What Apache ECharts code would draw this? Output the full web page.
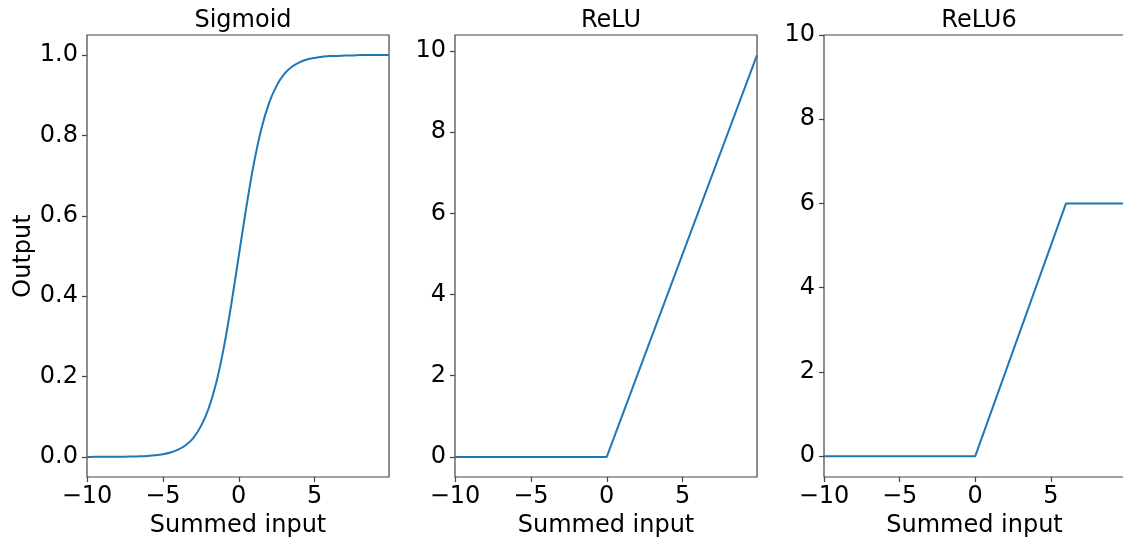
<!DOCTYPE html>
<html>
<head>
<meta charset="utf-8">
<script src="https://cdn.jsdelivr.net/npm/echarts@6/dist/echarts.min.js"></script>
<style>
html,body{margin:0;padding:0;background:#fff;}
#chart{width:1123px;height:540px;}
</style>
</head>
<body>
<div id="chart"></div>
<script>
// ---- data ----
const panelTitles = ["Sigmoid", "ReLU", "ReLU6"];
const xTicks = [-10, -5, 0, 5];
const sigmoidYTicks = [0, 0.2, 0.4, 0.6, 0.8, 1.0];
const reluYTicks = [0, 2, 4, 6, 8, 10];

const sigmoidX = [-10, -9.5, -9, -8.5, -8, -7.5, -7, -6.5, -6, -5.5, -5, -4.5, -4, -3.5, -3, -2.5, -2, -1.5, -1, -0.5, 0, 0.5, 1, 1.5, 2, 2.5, 3, 3.5, 4, 4.5, 5, 5.5, 6, 6.5, 7, 7.5, 8, 8.5, 9, 9.5, 9.9];
const sigmoidY = [0.0000, 0.0001, 0.0001, 0.0002, 0.0003, 0.0006, 0.0009, 0.0015, 0.0025, 0.0041, 0.0067, 0.011, 0.018, 0.029, 0.047, 0.076, 0.119, 0.182, 0.269, 0.378, 0.500, 0.622, 0.731, 0.818, 0.881, 0.924, 0.953, 0.971, 0.982, 0.989, 0.993, 0.996, 0.998, 0.998, 0.999, 0.999, 1.000, 1.000, 1.000, 1.000, 1.000];

const reluX = [-10, 0, 9.9];
const reluY = [0, 0, 9.9];

const relu6X = [-10, 0, 6, 9.9];
const relu6Y = [0, 0, 6, 6];

// ---- chart ----
const FONT = "DejaVu Sans";
const FS = 24;
const LINE = "#1f77b4";
const SPINE = "#444";
const zip = (a, b) => a.map((v, i) => [v, b[i]]);
const minusFmt = v => String(v).replace("-", "\u2212");

const grids = [
  { left: 87, top: 35, width: 302, height: 442 },
  { left: 455, top: 35, width: 302, height: 442 },
  { left: 824, top: 35, width: 301, height: 442 }
].map(g => Object.assign(g, { show: true, borderColor: SPINE, borderWidth: 1.2, backgroundColor: "transparent", containLabel: false, outerBoundsMode: "none" }));

const yRanges = [[-0.05, 1.05], [-0.495, 10.395], [-0.495, 10]];
const yTickSets = [sigmoidYTicks, reluYTicks, reluYTicks];

const xAxes = [0, 1, 2].map(i => ({
  type: "value", gridIndex: i, min: -10, max: 9.9, position: "bottom",
  name: "Summed input", nameLocation: "middle", nameGap: 36,
  nameTextStyle: { fontFamily: FONT, fontSize: FS, color: "#000" },
  axisLine: { show: false, onZero: false },
  axisTick: { show: true, inside: false, length: 5, customValues: xTicks, lineStyle: { color: SPINE, width: 1.2 } },
  axisLabel: { customValues: xTicks, margin: 8, fontFamily: FONT, fontSize: FS, color: "#000", formatter: minusFmt },
  splitLine: { show: false }
}));

const yAxes = [0, 1, 2].map(i => ({
  type: "value", gridIndex: i, min: yRanges[i][0], max: yRanges[i][1], position: "left",
  name: i === 0 ? "Output" : "", nameLocation: "middle", nameRotate: 90, nameGap: 50,
  nameTextStyle: { fontFamily: FONT, fontSize: FS, color: "#000" },
  axisLine: { show: false, onZero: false },
  axisTick: { show: true, inside: false, length: 5, customValues: yTickSets[i], lineStyle: { color: SPINE, width: 1.2 } },
  axisLabel: { customValues: yTickSets[i], margin: 9, fontFamily: FONT, fontSize: FS, color: "#000",
    formatter: i === 0 ? (v => v.toFixed(1)) : (v => String(v)) },
  splitLine: { show: false }
}));

const titles = panelTitles.map((t, i) => ({
  text: t, left: grids[i].left + grids[i].width / 2 - (i === 2 ? 0.5 : 0), top: 4, textAlign: "center",
  textStyle: { fontFamily: FONT, fontSize: FS, fontWeight: "normal", color: "#000" }
}));

const lineStyle = { color: LINE, width: 2 };
const series = [
  { type: "line", xAxisIndex: 0, yAxisIndex: 0, data: zip(sigmoidX, sigmoidY), smooth: 0.3, showSymbol: false, lineStyle, itemStyle: { color: LINE } },
  { type: "line", xAxisIndex: 1, yAxisIndex: 1, data: zip(reluX, reluY), showSymbol: false, lineStyle, itemStyle: { color: LINE } },
  { type: "line", xAxisIndex: 2, yAxisIndex: 2, data: zip(relu6X, relu6Y), showSymbol: false, lineStyle, itemStyle: { color: LINE } }
];

const chart = echarts.init(document.getElementById("chart"), null, { renderer: "canvas" });
chart.setOption({
  animation: false,
  backgroundColor: "#fff",
  title: titles,
  grid: grids,
  xAxis: xAxes,
  yAxis: yAxes,
  series: series
});
</script>
</body>
</html>
